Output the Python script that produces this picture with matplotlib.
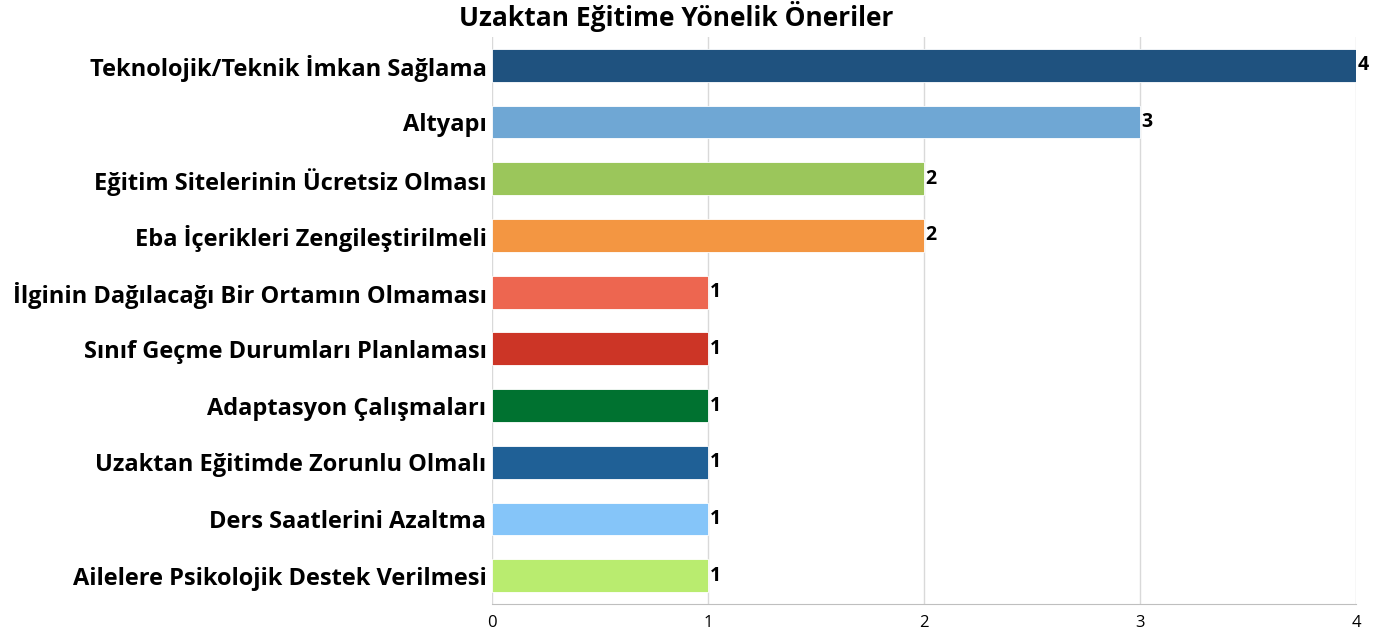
import matplotlib.pyplot as plt
import numpy as np

plt.rcParams['font.family'] = ['Open Sans', 'Lato', 'DejaVu Sans']

categories = [
    'Teknolojik/Teknik İmkan Sağlama',
    'Altyapı',
    'Eğitim Sitelerinin Ücretsiz Olması',
    'Eba İçerikleri Zengileştirilmeli',
    'İlginin Dağılacağı Bir Ortamın Olmaması',
    'Sınıf Geçme Durumları Planlaması',
    'Adaptasyon Çalışmaları',
    'Uzaktan Eğitimde Zorunlu Olmalı',
    'Ders Saatlerini Azaltma',
    'Ailelere Psikolojik Destek Verilmesi',
]
values = [4, 3, 2, 2, 1, 1, 1, 1, 1, 1]
colors = ['#1F527F', '#6FA7D4', '#9BC65B', '#F39642', '#ED6650',
          '#CC3526', '#007230', '#1F6096', '#85C5F9', '#B9EC6F']

fig = plt.figure(figsize=(13.95, 6.37), dpi=100)
ax = fig.add_axes([492 / 1395, 1 - 604 / 637, 864 / 1395, 567 / 637])

y_pos = np.arange(len(categories))
bars = ax.barh(y_pos, values, height=0.58, color=colors,
               edgecolor='white', linewidth=0.6, zorder=3)
for b, v in zip(bars, values):
    ax.text(b.get_width() + 0.008, b.get_y() + b.get_height() / 2, str(v),
            va='center', ha='left', fontsize=14, fontweight='bold')

ax.set_yticks(y_pos)
ax.set_yticklabels(categories, fontsize=17, fontweight='bold')
ax.set_ylim(len(categories) - 0.5, -0.5)
ax.set_xlim(0, 4)
ax.set_xticks([0, 1, 2, 3, 4])
ax.tick_params(axis='x', labelsize=12, length=0, pad=8)
ax.tick_params(axis='y', length=0, pad=4)
ax.grid(axis='x', color='#D9D9D9', linewidth=1, zorder=0)
for s in ['top', 'right', 'left']:
    ax.spines[s].set_visible(False)
ax.spines['bottom'].set_color('#BFBFBF')

fig.suptitle('Uzaktan Eğitime Yönelik Öneriler', x=0.485, y=0.998,
             fontsize=19, fontweight='bold')

plt.savefig('out.png')
plt.close()
